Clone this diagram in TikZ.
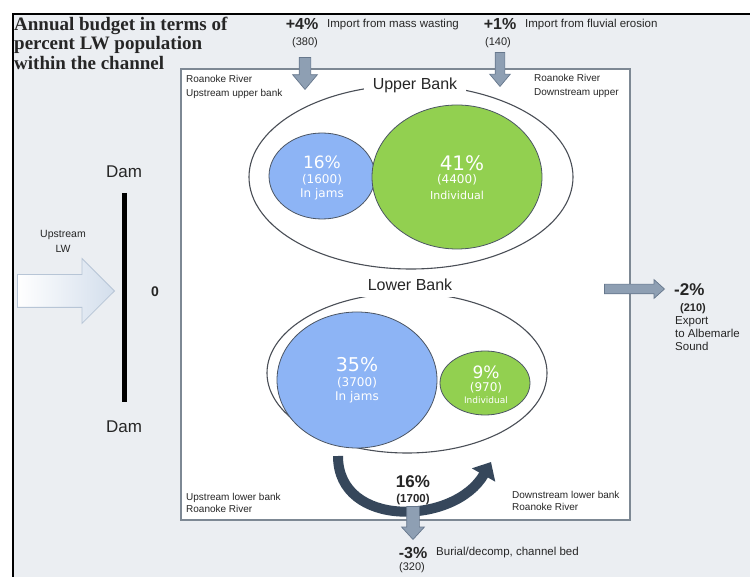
\documentclass[tikz,border=0pt]{standalone}
\usepackage{fontspec}
\setmainfont{Liberation Sans}
\newfontfamily\blobfont{DejaVu Sans}
\newfontfamily\titlefont{Liberation Serif}
\usepackage{tikz}
\usetikzlibrary{arrows.meta, positioning, shapes.geometric, shapes.arrows}
\tikzset{every node/.style={inner sep=1pt, text=black!85}}
\usepackage{xcolor}
\definecolor{panelgray}{HTML}{EBEEF2}
\definecolor{boxedge}{HTML}{7D8894}
\definecolor{jamblue}{HTML}{8DB4F5}
\definecolor{indivgreen}{HTML}{92D050}
\definecolor{blobedge}{HTML}{4B5563}
\definecolor{bankedge}{HTML}{4A4F57}
\definecolor{flowfill}{HTML}{8E9FB3}
\definecolor{flowedge}{HTML}{66778C}
\definecolor{swapdark}{HTML}{36475B}
\definecolor{upfill}{HTML}{D3DEEC}
\definecolor{upedge}{HTML}{B7C5D6}

\begin{document}
\begin{tikzpicture}[x=1pt, y=-1pt,
    bank/.style={ellipse, draw=bankedge, line width=1.1pt, inner sep=0pt},
    blob/.style={ellipse, draw=blobedge, line width=0.8pt, inner sep=0pt},
    banklabel/.style={fill=white, inner xsep=9pt, inner ysep=6pt, font=\fontsize{16}{16}\selectfont},
    flowarrow/.style={single arrow, draw=flowedge, fill=flowfill, line width=0.7pt, inner xsep=0pt, single arrow head indent=0pt, anchor=tip},
    pct/.style={text=white, font=\blobfont\fontsize{17}{17}\selectfont},
    cnt/.style={text=white, font=\blobfont\fontsize{12}{12}\selectfont},
    gain/.style={font=\bfseries\fontsize{16}{16}\selectfont},
    count/.style={font=\fontsize{11}{11}\selectfont},
    note/.style={font=\fontsize{11.5}{13}\selectfont},
    corner/.style={font=\fontsize{10}{14}\selectfont, align=left, anchor=north west},
    damlabel/.style={font=\fontsize{17}{17}\selectfont}]
    \useasboundingbox (0,0) rectangle (750,577);
    \fill[white] (0,0) rectangle (750,577);
    \fill[panelgray] (13,14) rectangle (750,577);
    \draw[line width=1.6pt] (13,577) -- (13,14) -- (750,14);
    \node (title) [anchor=north west, align=left, font=\titlefont\bfseries\fontsize{19}{19.5}\selectfont] at (13,15.5) {Annual budget in terms of\\percent LW population\\within the channel};

    \node (channel) [draw=boxedge, fill=white, line width=1.5pt, minimum width=449pt, minimum height=451pt, inner sep=0pt] at (405.5,294.5) {};

    \node (upbank) [bank, minimum width=324pt, minimum height=184pt] at (411,177) {};
    \node (upjam) [blob, fill=jamblue, minimum width=106pt, minimum height=86pt] at (322,176) {};
    \node (upind) [blob, fill=indivgreen, minimum width=170pt, minimum height=144pt] at (457,177) {};
    \node (uplabel) [banklabel] at (415,85) {Upper Bank};
    \node (upjampct) [pct] at (322,162) {16\%};
    \node (upjamcnt) [cnt] at (322,180) {(1600)};
    \node (upjamtxt) [cnt] at (322,194) {In jams};
    \node (upindpct) [pct, font=\blobfont\fontsize{20}{20}\selectfont] at (462,163) {41\%};
    \node (upindcnt) [cnt] at (457,180) {(4400)};
    \node (upindtxt) [cnt, font=\blobfont\fontsize{11}{11}\selectfont] at (457,195) {Individual};

    \node (lowbank) [bank, minimum width=280pt, minimum height=160pt] at (407,373) {};
    \node (lowjam) [blob, fill=jamblue, minimum width=160pt, minimum height=136pt] at (357,380) {};
    \node (lowind) [blob, fill=indivgreen, minimum width=90pt, minimum height=64pt] at (485,383) {};
    \node (lowlabel) [banklabel] at (410,285) {Lower Bank};
    \node (lowjampct) [pct, font=\blobfont\fontsize{19}{19}\selectfont] at (357,365) {35\%};
    \node (lowjamcnt) [cnt] at (357,383) {(3700)};
    \node (lowjamtxt) [cnt] at (357,397) {In jams};
    \node (lowindpct) [pct] at (486,372) {9\%};
    \node (lowindcnt) [cnt] at (486,388) {(970)};
    \node (lowindtxt) [cnt, font=\blobfont\fontsize{9}{9}\selectfont] at (486,400) {Individual};

    \node (uproanoke) [corner] at (185,74) {Roanoke River\\Upstream upper bank};
    \node (downroanoke) [corner] at (533,73) {Roanoke River\\Downstream upper};
    \node (uplowroanoke) [corner, font=\fontsize{10}{12.5}\selectfont] at (185,492) {Upstream lower bank\\Roanoke River};
    \node (downlowroanoke) [corner, font=\fontsize{10}{12.5}\selectfont] at (511,490) {Downstream lower bank\\Roanoke River};

    \node (massgain) [gain] at (302,24) {+4\%};
    \node (masslabel) [note, anchor=west] at (326,25) {Import from mass wasting};
    \node (masscount) [count] at (305,43) {(380)};
    \node (massarrow) [flowarrow, rotate=-90, minimum height=32pt, minimum width=24pt, inner ysep=5.5pt, single arrow head extend=6.5pt, single arrow tip angle=80] at (305,90) {};
    \node (fluvgain) [gain] at (500,24) {+1\%};
    \node (fluvlabel) [note, anchor=west] at (524,25) {Import from fluvial erosion};
    \node (fluvcount) [count] at (498,43) {(140)};
    \node (fluvarrow) [flowarrow, rotate=-90, minimum height=34pt, minimum width=20pt, inner ysep=4.5pt, single arrow head extend=5.5pt, single arrow tip angle=80] at (500,87) {};

    \node (damtop) [damlabel] at (124,172) {Dam};
    \node (dambot) [damlabel] at (124,427) {Dam};
    \draw[line width=5pt, shorten <=21pt, shorten >=25pt] (damtop.center) -- (dambot.center);
    \node (zero) [font=\bfseries\fontsize{14}{14}\selectfont] at (155,292) {0};
    \node (uplw) [align=center, font=\fontsize{10.5}{15}\selectfont] at (63,241) {Upstream\\LW};
    \node (uparrow) [single arrow, draw=upedge, left color=white, right color=upfill, line width=0.8pt, inner xsep=0pt, inner ysep=16pt, minimum height=97pt, minimum width=64pt, single arrow head extend=16pt, single arrow head indent=0pt, single arrow tip angle=90, anchor=tip] at (115,291) {};

    \node (exportarrow) [flowarrow, minimum height=60pt, minimum width=18pt, inner ysep=4.5pt, single arrow head extend=4.5pt, single arrow tip angle=84] at (665,289) {};
    \node (exportgain) [gain, font=\bfseries\fontsize{17}{17}\selectfont, anchor=west] at (673,290) {-2\%};
    \node (exportcount) [count, font=\bfseries\fontsize{11}{11}\selectfont] at (693,309) {(210)};
    \node (exporttxt) [note, align=left, anchor=north west] at (674,315) {Export\\to Albemarle\\Sound};

    \coordinate (swapout) at (338,456);
    \coordinate (swapin) at (491,462);
    \draw[swapdark, line width=10pt, -{Triangle[length=15pt, width=26pt]}] (swapout) .. controls (338,529) and (455,525) .. (swapin);
    \node (swapgain) [gain, font=\bfseries\fontsize{17}{17}\selectfont] at (413,482) {16\%};
    \node (swapcount) [count, font=\bfseries\fontsize{11.5}{11.5}\selectfont] at (413,500) {(1700)};

    \node (burialarrow) [flowarrow, rotate=-90, minimum height=33pt, minimum width=22pt, inner ysep=6pt, single arrow head extend=5pt, single arrow tip angle=85] at (413,540) {};
    \node (burialloss) [gain] at (413,553) {-3\%};
    \node (buriallabel) [note, anchor=west] at (435,553) {Burial/decomp, channel bed};
    \node (burialcount) [count] at (412,568) {(320)};
\end{tikzpicture}
\end{document}
